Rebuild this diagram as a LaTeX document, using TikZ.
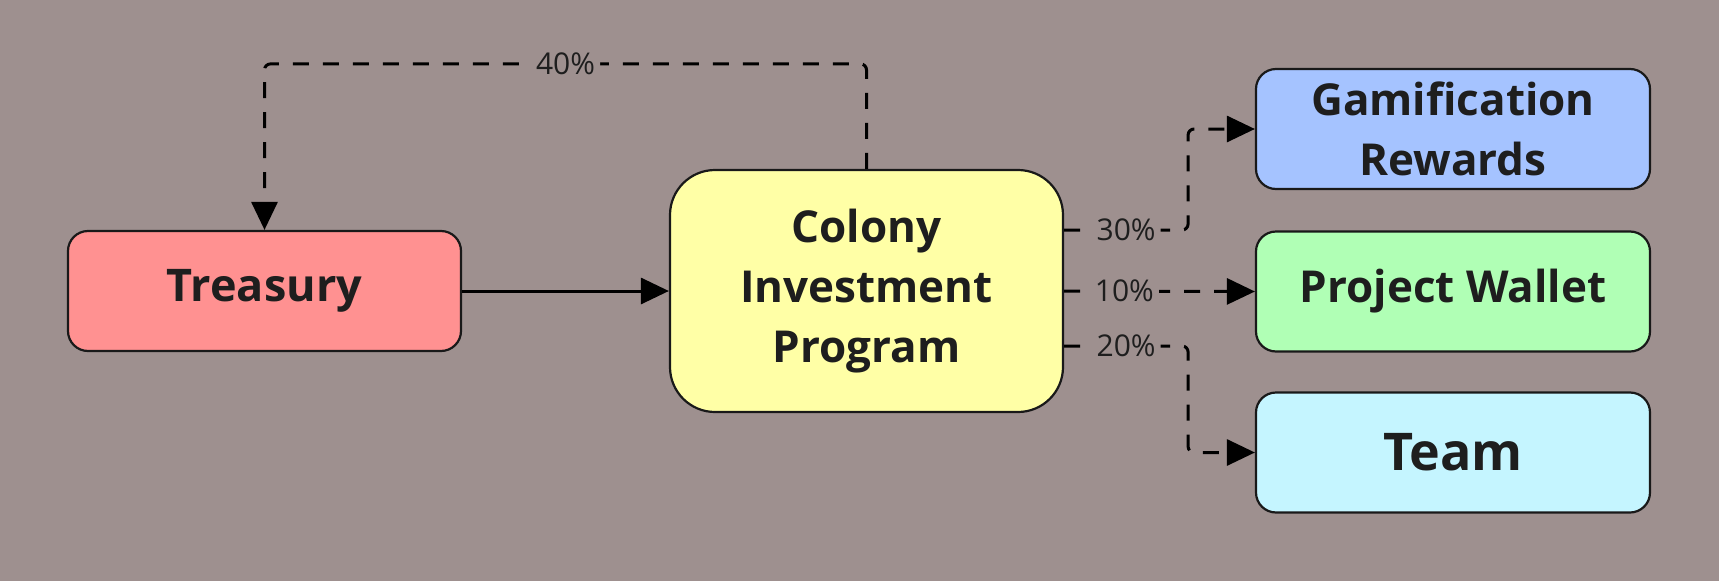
\documentclass[tikz,border=0pt]{standalone}
\usepackage{fontspec}
\setmainfont{Open Sans}
\usetikzlibrary{arrows.meta}
\definecolor{bg}{RGB}{158,144,143}
\definecolor{txt}{RGB}{30,30,30}
\definecolor{edgec}{RGB}{25,25,25}
\definecolor{redf}{RGB}{255,145,145}
\definecolor{yelf}{RGB}{255,255,166}
\definecolor{bluf}{RGB}{165,195,255}
\definecolor{grnf}{RGB}{176,255,181}
\definecolor{cyaf}{RGB}{197,245,255}
\tikzset{
  box/.style={draw=edgec, line width=2.2pt, rounded corners=20pt, align=center,
    font=\bfseries\fontsize{44}{60}\selectfont, text=txt,
    minimum width=393pt, minimum height=120pt, inner sep=0pt},
  conn/.style={line width=3pt, black, -{Triangle[length=28pt,width=26pt]}},
  dconn/.style={conn, dash pattern=on 16pt off 14pt, rounded corners=6pt},
  lbl/.style={fill=bg, text=txt, font=\fontsize{30}{30}\selectfont, inner sep=5pt, solid}
}
\begin{document}
\begin{tikzpicture}[x=1pt,y=-1pt]
\fill[bg] (0,0) rectangle (1719,581);
\useasboundingbox (0,0) rectangle (1719,581);

\node[box, fill=redf, font=\bfseries\fontsize{45}{60}\selectfont] (tr) at (264.5,291) {Treasury};
\node[box, fill=yelf, rounded corners=45pt, minimum height=242pt] (col) at (866.5,291) {Colony\\Investment\\Program};
\node[box, fill=bluf, minimum width=394pt] (gam) at (1453,129) {Gamification\\Rewards};
\node[box, fill=grnf, minimum width=394pt] (pw) at (1453,291.5) {Project Wallet};
\node[box, fill=cyaf, minimum width=394pt, font=\bfseries\fontsize{52}{60}\selectfont] (team) at (1453,452.5) {Team};

\draw[conn] (tr.east) -- (col.west);
\draw[dconn] (col.north) -- ++(0,-105) -| node[lbl, pos=0.25] {40\%} (tr.north);
\draw[dconn] ([yshift=61pt]col.east) -- node[lbl] {30\%} ++(124,0) |- (gam.west);
\draw[dconn] (col.east) -- node[lbl, pos=0.316] {10\%} (pw.west);
\draw[dconn] ([yshift=-55pt]col.east) -- node[lbl] {20\%} ++(124,0) |- (team.west);
\end{tikzpicture}
\end{document}
